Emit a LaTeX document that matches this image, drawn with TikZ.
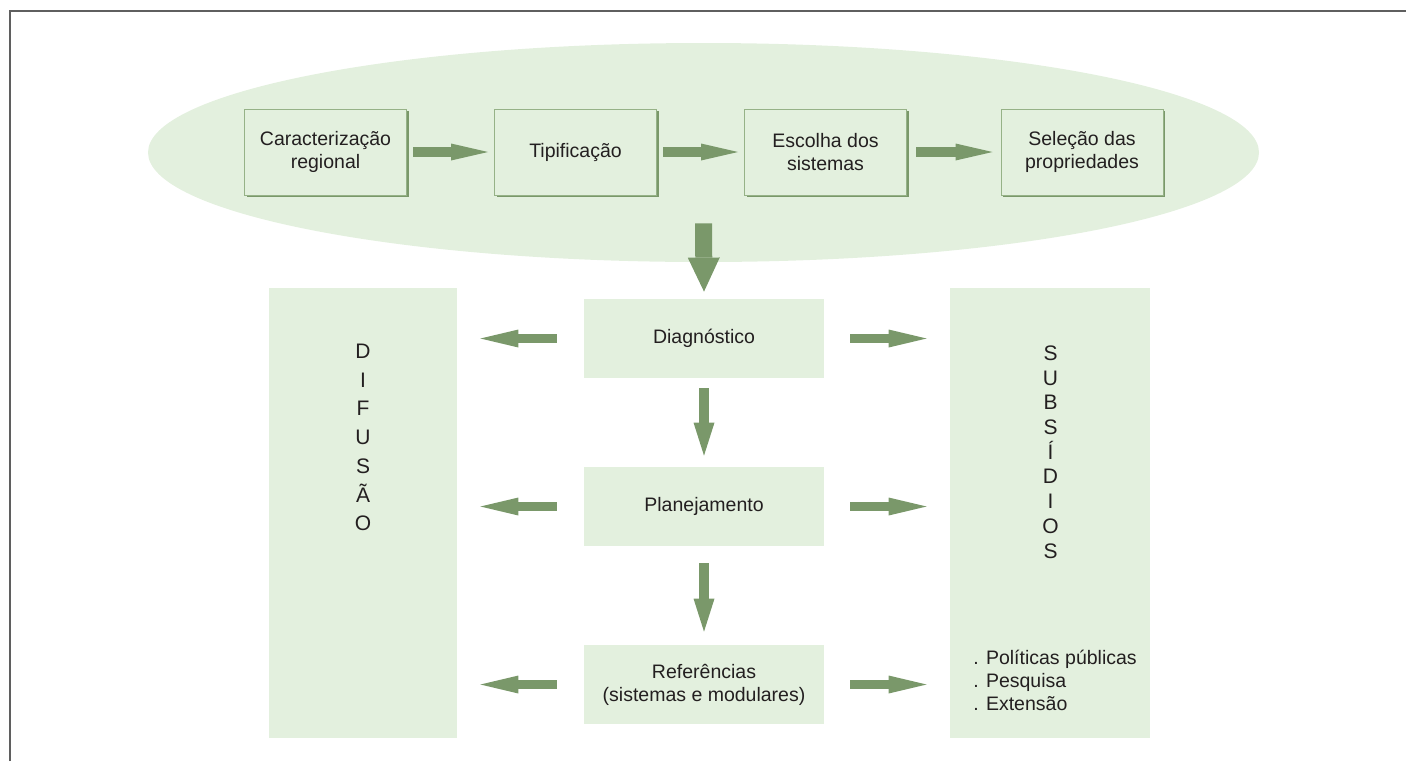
\documentclass[tikz,border=0pt]{standalone}
\usepackage{fontspec}
\setmainfont{Liberation Sans}
\usepackage{tikz}
\usetikzlibrary{shapes.geometric,arrows.meta,positioning,shadows}
\definecolor{EmbGreen}{RGB}{122,152,106}
\definecolor{EmbLight}{RGB}{227,240,222}
\definecolor{EmbEdge}{RGB}{150,178,135}
\definecolor{EmbText}{RGB}{35,31,32}
\definecolor{EmbFrame}{RGB}{95,95,95}

\begin{document}
\begin{tikzpicture}[x=0.5pt,y=-0.5pt,
  stage/.style={draw=EmbEdge,fill=EmbLight,line width=0.5pt,
                minimum width=81pt,minimum height=43pt,inner sep=0pt,align=center,
                font=\fontsize{9.75}{11.5}\selectfont,text=EmbText,
                drop shadow={shadow xshift=1pt,shadow yshift=-1pt,fill=EmbGreen,opacity=1}},
  phase/.style={fill=EmbLight,minimum width=120pt,minimum height=39.5pt,inner sep=0pt,
                align=center,font=\fontsize{9.75}{11.5}\selectfont,text=EmbText},
  panel/.style={fill=EmbLight,minimum height=225pt,inner sep=0pt},
  vword/.style={align=center,inner sep=0pt,text=EmbText},
  flow/.style={draw=EmbGreen,line width=4.75pt,-{Triangle[length=18.5pt,width=8.5pt,line width=0pt]}},
  sideflow/.style={draw=EmbGreen,line width=4.5pt,-{Triangle[length=19pt,width=9pt,line width=0pt]}},
  downflow/.style={draw=EmbGreen,line width=5.25pt,-{Triangle[length=16.5pt,width=10.5pt,line width=0pt]}},
  bigflow/.style={draw=EmbGreen,line width=8.5pt,-{Triangle[length=17pt,width=16pt,line width=0pt]}},
]
\useasboundingbox (0,0) rectangle (1406,761);
\draw[EmbFrame,line width=0.75pt] (10,761) -- (10,11) -- (1406,11);

% typification band
\node[ellipse,fill=EmbLight,inner sep=0pt,minimum width=555.5pt,minimum height=109.5pt] (region) at (703.5,152.5) {};
\node[stage] (carac) at (325.5,152) {Caracterização\\regional};
\node[stage] (tipif) at (575.5,152) {Tipificação};
\node[stage] (escolha) at (825.5,152) {Escolha dos\\sistemas};
\node[stage] (selecao) at (1082,152) {Seleção das\\propriedades};
\draw[flow] ([xshift=3pt]carac.east) -- ([xshift=-3pt]tipif.west);
\draw[flow] ([xshift=3pt]tipif.east) -- ([xshift=-3pt]escolha.west);
\draw[flow] ([xshift=4.5pt]escolha.east) -- ([xshift=-4pt]selecao.west);

% side panels
\node[panel,minimum width=94pt] (difusao) at (363,513) {};
\node[panel,minimum width=100pt] (subsidios) at (1050,513) {};
\node[vword,font=\fontsize{10.5}{14.35}\selectfont] (difword) at (363,437.5) {D\\I\\F\\U\\S\\Ã\\O};
\node[vword,font=\fontsize{10.5}{12.35}\selectfont] (subword) at (1050.5,452) {S\\U\\B\\S\\Í\\D\\I\\O\\S};
\node[anchor=west,align=left,inner sep=0pt,text=EmbText,font=\fontsize{9.75}{11.5}\selectfont] (subitems) at (973,680)
  {. Políticas públicas\\. Pesquisa\\. Extensão};

% central column
\node[phase] (diag) at (704,338.5) {Diagnóstico};
\node[phase] (plan) at (704,506.5) {Planejamento};
\node[phase] (ref) at (704,684.5) {Referências\\(sistemas e modulares)};
\draw[bigflow] ([yshift=19.5pt]region.south) -- ([yshift=3.5pt]diag.north);
\draw[downflow] ([yshift=-5pt]diag.south) -- ([yshift=5.5pt]plan.north);
\draw[downflow] ([yshift=-8.5pt]plan.south) -- ([yshift=6.5pt]ref.north);
\foreach \n in {diag,plan,ref}{
  \draw[sideflow] ([xshift=-13.5pt]\n.west) -- ([xshift=11.5pt]difusao.east |- \n.west);
  \draw[sideflow] ([xshift=13pt]\n.east) -- ([xshift=-11.5pt]subsidios.west |- \n.east);
}
\end{tikzpicture}
\end{document}
